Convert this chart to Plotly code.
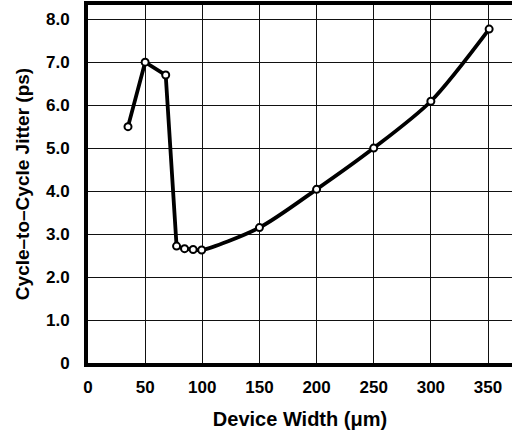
import plotly.graph_objects as go

# Data
device_width = [35, 50, 68, 77.5, 84.5, 92, 99.5, 150, 200, 250, 300, 351]
jitter_ps = [5.5, 7.0, 6.7, 2.72, 2.66, 2.64, 2.63, 3.15, 4.04, 5.0, 6.09, 7.77]
x_ticks = [0, 50, 100, 150, 200, 250, 300, 350]
y_ticks = [0, 1, 2, 3, 4, 5, 6, 7, 8]
y_tick_labels = ["0", "1.0", "2.0", "3.0", "4.0", "5.0", "6.0", "7.0", "8.0"]

split = 3  # straight segments before the drop, smooth curve after

FONT = "Liberation Sans, Arial, sans-serif"

fig = go.Figure()
fig.add_trace(go.Scatter(
    x=device_width[:split + 1], y=jitter_ps[:split + 1], mode="lines",
    line=dict(color="black", width=3.8), hoverinfo="skip", showlegend=False))
fig.add_trace(go.Scatter(
    x=device_width[split:], y=jitter_ps[split:], mode="lines",
    line=dict(color="black", width=3.8, shape="spline", smoothing=0.8),
    hoverinfo="skip", showlegend=False))
fig.add_trace(go.Scatter(
    x=device_width, y=jitter_ps, mode="markers",
    marker=dict(size=7, color="white", line=dict(color="black", width=2)),
    showlegend=False, cliponaxis=False))

fig.update_layout(
    width=512, height=433,
    margin=dict(l=88, r=0, t=5, b=70, autoexpand=False),
    paper_bgcolor="white", plot_bgcolor="white",
    font=dict(family=FONT, color="black"),
)
fig.update_xaxes(
    range=[0, 371], tickvals=x_ticks, ticktext=[str(v) for v in x_ticks],
    showgrid=True, gridcolor="#111", gridwidth=1.3,
    showline=True, linecolor="black", linewidth=4, mirror=True,
    ticks="", zeroline=False, ticklabelstandoff=6, automargin=False,
    tickfont=dict(size=17, family=FONT, weight="bold"),
    title=dict(text="Device Width (\u03bcm)", standoff=17,
               font=dict(size=20, family=FONT, weight="bold")),
)
fig.update_yaxes(
    range=[0, 8.33], tickvals=y_ticks, ticktext=y_tick_labels,
    showgrid=True, gridcolor="#111", gridwidth=1.3,
    showline=True, linecolor="black", linewidth=4, mirror=False,
    ticks="", zeroline=False, ticklabelstandoff=11, automargin=False,
    tickfont=dict(size=17, family=FONT, weight="bold"),
    title=dict(text="Cycle\u2013to\u2013Cycle Jitter (ps)", standoff=12,
               font=dict(size=19, family=FONT, weight="bold")),
)

fig.write_html(
    "out.html",
    config={"displayModeBar": False},
    post_script="document.body.style.margin='0';document.body.style.overflow='hidden';",
)
